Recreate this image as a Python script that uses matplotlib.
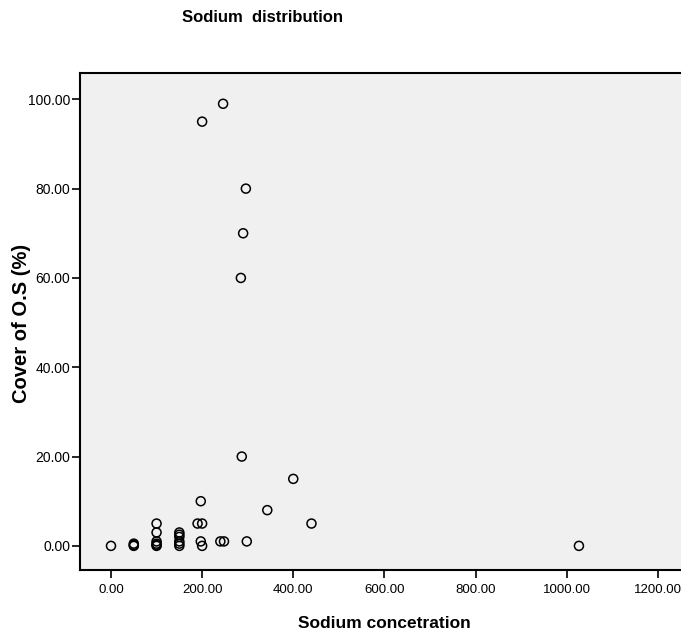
import numpy as np
import matplotlib.pyplot as plt

plt.rcParams['font.family'] = ['Liberation Sans', 'DejaVu Sans']

# Sodium concentration vs cover of O.S (%)
sodium = [0, 50, 50, 50, 100, 100, 100, 100, 100, 100,
          150, 150, 150, 150, 150, 150, 190, 200, 197, 197, 200,
          240, 248, 298, 343, 440, 400, 287, 285, 290, 296,
          200, 246, 1027]
cover = [0, 0, 0.2, 0.5, 5, 3, 1, 0.5, 0.2, 0,
         3, 2.5, 2, 1, 0.5, 0, 5, 5, 10, 1, 0,
         1, 1, 1, 8, 5, 15, 20, 60, 70, 80,
         95, 99, 0]

x_ticks = [0, 200, 400, 600, 800, 1000, 1200]
y_ticks = [0, 20, 40, 60, 80, 100]

fig = plt.figure(figsize=(6.81, 6.40), dpi=100)
ax = fig.add_axes([0.1175, 0.1094, 0.8825, 0.7766])
ax.set_facecolor('#f0f0f0')

ax.scatter(sodium, cover, s=42, facecolors='none', edgecolors='black', linewidths=1.1)

ax.set_xlim(-68, 1251)
ax.set_ylim(-5.4, 105.9)
ax.set_xticks(x_ticks)
ax.set_yticks(y_ticks)
ax.set_xticklabels([f"{v:.2f}" for v in x_ticks])
ax.set_yticklabels([f"{v:.2f}" for v in y_ticks])
ax.tick_params(direction='out', length=6, width=1.2, labelsize=9.5, pad=4)
ax.tick_params(axis='y', pad=1, labelsize=10)

for side in ['left', 'bottom', 'top']:
    ax.spines[side].set_linewidth(1.5)
ax.spines['right'].set_visible(False)

fig.text(262 / 681, 1 - 17 / 640, "Sodium  distribution", ha='center', va='center',
         fontsize=12, fontweight='bold')
ax.set_xlabel("Sodium concetration", fontsize=12.5, fontweight='bold')
ax.set_ylabel("Cover of O.S (%)", fontsize=14.5, fontweight='bold')
ax.xaxis.set_label_coords(0.506, -0.107)
ax.xaxis.label.set_va('center')
ax.yaxis.set_label_coords(-0.098, 0.497)
ax.yaxis.label.set_va('center')

fig.savefig('out.png', dpi=100)
